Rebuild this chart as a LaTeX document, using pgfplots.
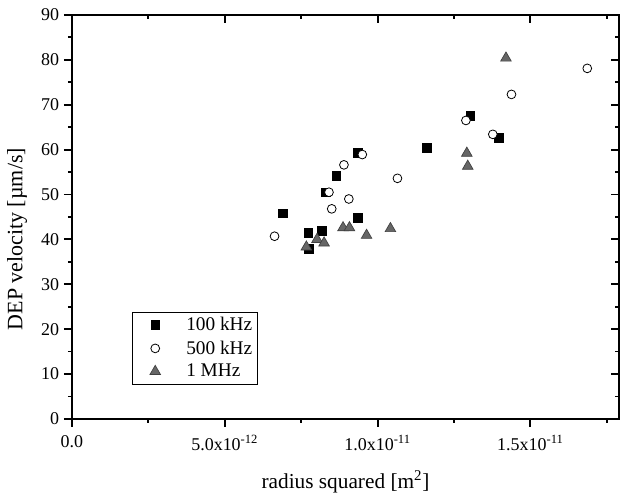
\documentclass[border=0pt]{standalone}
\usepackage{fontspec}
\setmainfont{Liberation Serif}
\usepackage{pgfplots}
\pgfplotsset{compat=1.18}
\definecolor{trifill}{gray}{0.40}
\definecolor{triedge}{gray}{0.25}
\begin{document}
\begin{tikzpicture}
\pgfplotsset{
  common/.style={
    scale only axis,
    width=411pt, height=303.4pt,
    xmin=0, xmax=17.9, ymin=0, ymax=90,
    xtick={0,5,10,15}, minor xtick={2.5,7.5,12.5,17.5},
    ytick={0,10,...,90}, minor ytick={5,15,...,85},
    major tick length=6pt, minor tick length=3pt,
    axis line style={line width=1.4pt},
    every tick/.style={line width=1.4pt, black},
    every minor tick/.style={line width=1.4pt, black},
  }
}
\begin{axis}[common,
  tick align=outside,
  xtick pos=bottom, ytick pos=left,
  /pgf/number format/assume math mode=true,
  ticklabel style={font=\fontsize{13.5}{15}\selectfont},
  xticklabel style={yshift=-3pt},
  xticklabels={0.0, 5.0x10\textsuperscript{-12}, 1.0x10\textsuperscript{-11}, 1.5x10\textsuperscript{-11}},
  xlabel={radius squared [m\textsuperscript{2}]},
  ylabel={DEP velocity [µm/s]},
  xlabel style={font=\fontsize{16}{18}\selectfont, at={(axis description cs:0.5,-0.156)}, anchor=center},
  ylabel style={font=\fontsize{16.5}{18}\selectfont, at={(axis description cs:-0.1,0.445)}, anchor=center},
  legend style={at={(rel axis cs:0.1095,0.085)}, anchor=south west, draw=black, line width=0.6pt,
    font=\fontsize{14.5}{16}\selectfont, inner xsep=2pt, inner ysep=2pt, row sep=2pt},
  legend cell align=left,
  legend image code/.code={\path (0pt,0pt) (36pt,0pt); \draw[#1] plot coordinates {(15pt,0pt)};},
]
\addplot[only marks, mark=square*, mark size=3.3pt, mark options={fill=black, draw=black, line width=0.4pt}] coordinates {
(13.03,67.6) (13.97,62.7) (11.61,60.4) (9.34,59.3) (8.65,54.2) (8.31,50.5)
(6.91,45.8) (9.36,44.9) (7.73,41.4) (8.17,41.9) (7.75,37.9)
};
\addlegendentry{100 kHz}
\addplot[only marks, mark=*, mark size=3.3pt, mark options={fill=white, draw=black, line width=0.6pt}] coordinates {
(16.86,78.1) (14.38,72.3) (12.89,66.5) (13.77,63.4) (9.50,58.9) (8.90,56.6)
(10.65,53.6) (8.41,50.5) (9.06,49.0) (8.50,46.8) (6.63,40.7)
};
\addlegendentry{500 kHz}
\addplot[only marks, mark=triangle*, mark size=4.6pt, mark options={fill=trifill, draw=triedge, line width=0.5pt}] coordinates {
(14.2,80.4) (12.92,59.2) (12.95,56.3) (8.87,42.6) (9.08,42.6) (10.42,42.4)
(9.64,40.9) (8.02,40.0) (8.25,39.2) (7.67,38.3)
};
\addlegendentry{1 MHz}
\end{axis}
\begin{axis}[common,
  tick align=inside,
  xtick pos=top, ytick pos=right,
  xticklabels={}, yticklabels={},
]
\end{axis}
\pgfresetboundingbox
\path ([xshift=-54pt,yshift=-58.5pt]current axis.south west) rectangle ([xshift=0.7pt,yshift=11.25pt]current axis.north east);
\end{tikzpicture}
\end{document}
